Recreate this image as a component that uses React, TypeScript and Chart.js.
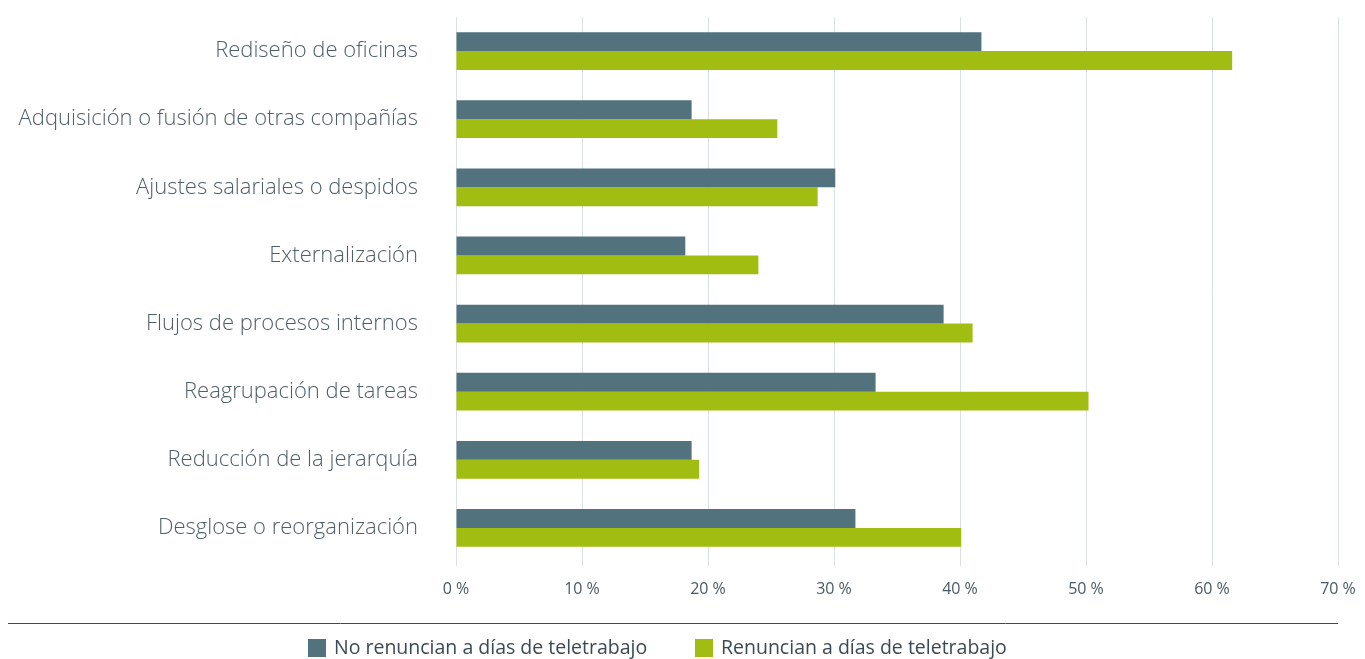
import React, { useEffect, useRef } from "react";
import { Chart, registerables } from "chart.js";

Chart.register(...registerables);

const categories = [
  "Rediseño de oficinas",
  "Adquisición o fusión de otras compañías",
  "Ajustes salariales o despidos",
  "Externalización",
  "Flujos de procesos internos",
  "Reagrupación de tareas",
  "Reducción de la jerarquía",
  "Desglose o reorganización",
];
const noRenuncian = [41.7, 18.7, 30.1, 18.2, 38.7, 33.3, 18.7, 31.7];
const renuncian = [61.6, 25.5, 28.7, 24.0, 41.0, 50.2, 19.3, 40.1];
const seriesNames = ["No renuncian a días de teletrabajo", "Renuncian a días de teletrabajo"];
const xTicks = [0, 10, 20, 30, 40, 50, 60, 70];

const DARK = "#52727e";
const GREEN = "#a2bd11";
const TEXT = "#4f5f66";

const lineAndLegend = {
  id: "lineAndLegend",
  afterDraw(chart: any) {
    const ctx = chart.ctx;
    ctx.save();
    ctx.strokeStyle = "#3b4a52";
    ctx.lineWidth = 1;
    ctx.beginPath();
    ctx.moveTo(8, 623.5);
    ctx.lineTo(1338, 623.5);
    ctx.stroke();

    const items = chart.data.datasets.map((d: any) => ({ label: d.label, color: d.backgroundColor }));
    ctx.font = "500 19.5px 'Open Sans'";
    ctx.textBaseline = "middle";
    ctx.textAlign = "left";
    const cy = 648;
    const starts = [308, 695];
    items.forEach((it: any, i: number) => {
      const x = starts[i];
      ctx.fillStyle = it.color;
      ctx.fillRect(x, cy - 9, 18, 18);
      ctx.fillStyle = "#3b4a52";
      ctx.fillText(it.label, x + 26, cy);
    });
    ctx.restore();
  },
};

export default function App() {
  const ref = useRef<HTMLCanvasElement>(null);
  useEffect(() => {
    document.body.style.margin = "0";
    const chart = new Chart(ref.current!, {
      type: "bar",
      data: {
        labels: categories,
        datasets: [
          { label: seriesNames[0], data: noRenuncian, backgroundColor: DARK },
          { label: seriesNames[1], data: renuncian, backgroundColor: GREEN },
        ],
      },
      options: {
        indexAxis: "y",
        animation: false,
        responsive: false,
        maintainAspectRatio: false,
        datasets: { bar: { categoryPercentage: 0.555, barPercentage: 1 } },
        layout: { padding: { top: 17, right: 27, left: 0, bottom: 47 } },
        scales: {
          x: {
            min: 0,
            max: 70,
            afterBuildTicks: (s: any) => {
              s.ticks = xTicks.map((v) => ({ value: v }));
            },
            afterFit: (s: any) => {
              s.height = 50;
              s.paddingRight = 0;
              s.paddingLeft = 0;
            },
            grid: { color: "#dae1e4", drawTicks: true, tickLength: 4 },
            border: { display: false },
            ticks: {
              color: "#4a5a62",
              padding: 14,
              font: { family: "Open Sans", size: 16, weight: "500" },
              callback: (v: any) => `${v} %`,
            },
          },
          y: {
            afterFit: (s: any) => {
              s.width = 456;
              s.paddingTop = 0;
              s.paddingBottom = 0;
            },
            grid: { display: false },
            border: { display: false },
            ticks: {
              color: TEXT,
              padding: 30,
              font: { family: "Open Sans", size: 22, weight: "300" },
            },
          },
        },
        plugins: {
          legend: { display: false },
          tooltip: { enabled: false },
        },
      },
      plugins: [lineAndLegend],
    });
    return () => chart.destroy();
  }, []);
  return <canvas ref={ref} width={1365} height={659} style={{ display: "block" }} />;
}
